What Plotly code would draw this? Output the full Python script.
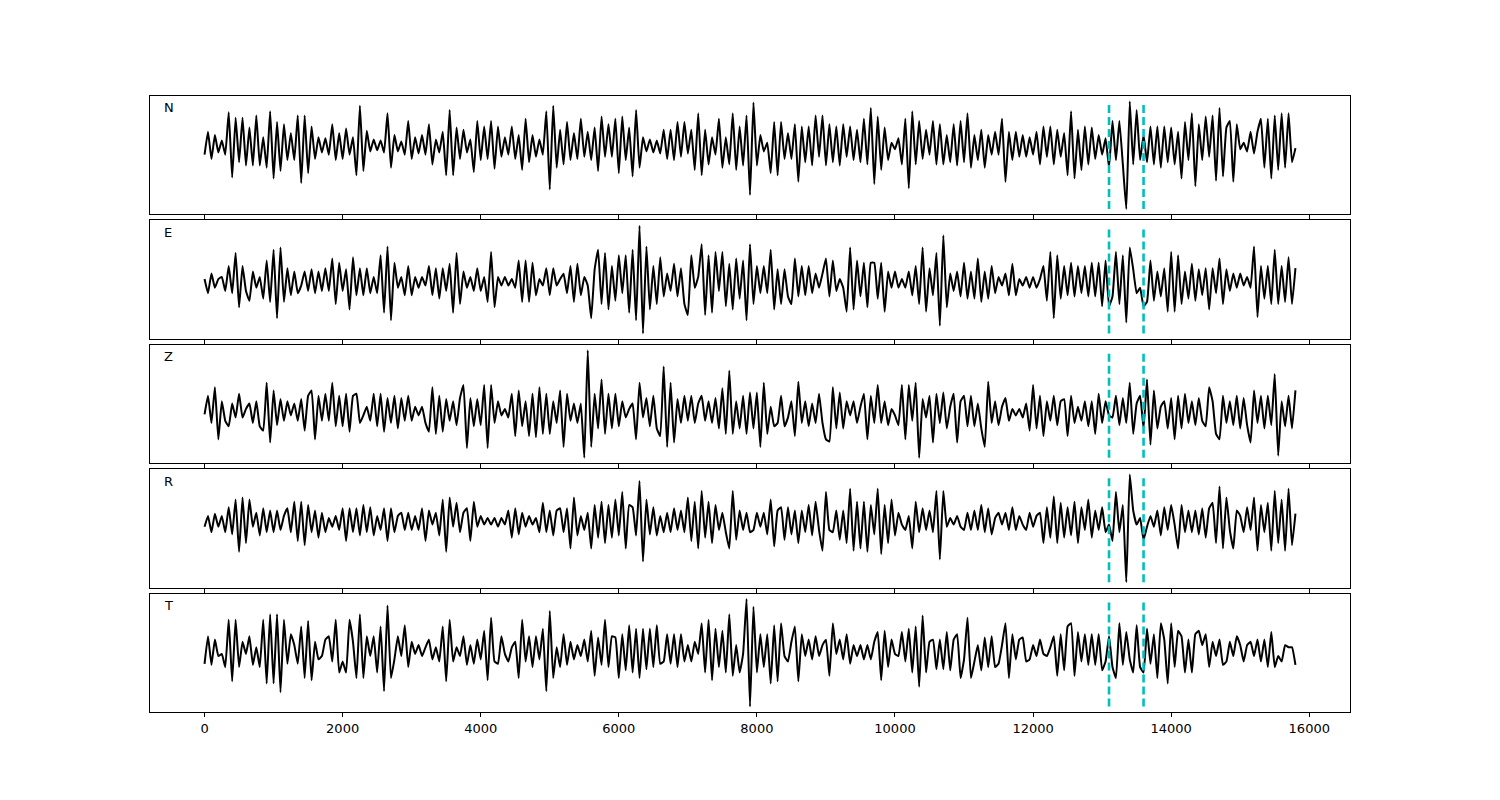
import plotly.graph_objects as go
from plotly.subplots import make_subplots

# ---------------- data ----------------
SAMPLE_STEP = 50  # time between listed samples (x units)
components = ["N", "E", "Z", "R", "T"]
pick_times = [13100, 13600]

N_vals = [
    -8, 13, -12, 10, -6, 5, -8, 31, -29, 26, -15, 26, -18, 17, -18, 28, -18, 8, -20, 32,
    -30, 22, -23, 20, -13, 12, -13, 28, -34, 28, -25, 18, -12, 8, -6, 7, -8, 20, -13, 12,
    -12, 16, -8, 8, -27, 37, -23, 14, -5, 6, -4, 5, -6, 30, -20, 10, -5, 4, -8, 23,
    -12, 8, -7, 10, -8, 20, -17, 6, -6, 13, -27, 33, -27, 17, -12, 15, -6, 6, -24, 23,
    -13, 18, -12, 23, -21, 18, -10, 8, -8, 18, -12, 10, -22, 25, -15, 10, -10, 6, -8, 32,
    -40, 37, -20, 15, -17, 22, -13, 12, -12, 25, -10, 13, -13, 17, -23, 27, -10, 20, -10, 25,
    -25, 27, -13, 17, -28, 33, -20, 8, -5, 6, -6, 5, -7, 15, -12, 15, -13, 22, -10, 22,
    -7, 15, -22, 30, -27, 15, -17, 8, -8, 25, -20, 8, -17, 30, -22, 18, -18, 28, -45,
    40,
    -18, 10, -5, 3, -25, 22, -27, 22, -12, 12, -12, 20, -33, 18, -15, 18, -18, 28, -10, 28,
    -18, 20, -15, 18, -18, 20, -10, 18, -13, 15, -15, 25, -17, 35, -35, 27, -22, 17, -13, 3,
    -3, 7, -17, 25, -39, 32, -17, 23, -12, 15, -8, 23, -17, 20, -17, 10, -15, 20, -18, 23,
    -15, 30, -20, 10, -13, 15, -20, 10, -8, 13, -8, 25, -33, 13, -13, 13, -10, 10, -10, 8,
    -8, 13, -17, 18, -10, 18, -17, 15, -10, 12, -27, 32, -30, 15, -22, 18, -17, 17, -12, 10,
    -8, 7, -20, 23, -13, 23, -17, -58, 41, -17, 33, -13, 10, -15, 18, -17, 18, -20, 18, -15,
    17, -17, 13, -30, 22, -13, 30, -37, 20, -13, 27, -10, 28, -32, 35, -28, 17, 23, -33, 20,
    -3, 3, -5, 13, -7, 13, 25, -20, 25, -30, 28, -22, 30, -20, 30, -15, -2,
]

E_vals = [
    3, -10, 8, -5, 3, 5, -8, 15, -10, 27, -23, 15, -8, -17, 10, -5, 5, -15, 20, -18,
    30, -33, 32, -18, 13, -12, 10, -10, -3, 10, -8, 12, -10, 10, -8, 13, -8, 22, -20, 18,
    -8, 12, -25, 23, -12, 13, -12, 13, -10, 5, -10, 25, -28, 33, -35, 18, -5, 5, -12, 15,
    -12, 5, -5, 5, -3, 15, -12, 13, -15, 13, -8, 17, -28, 27, -20, 10, -5, 5, -8, 13,
    -8, 5, -18, 28, -23, 5, -3, 5, -3, 3, -5, 20, -18, 20, -18, 18, -12, 3, -3, 13,
    -12, 13, -3, 3, 8, -10, 15, -18, 17, -12, 5, -3, -33, 12, 30, -20, 27, -25, 15, -17,
    25, -10, 25, -28, 30, -35, 52, -47, 33, -25, 15, -20, 23, -13, 8, -8, 17, -13, 13, -20,
    -30, 25, -5, 5, 35, -30, 25, -28, 28, -8, 28, -22, 17, -25, 22, -15, 20, -35, 35,
    -20,
    15, -10, 15, -10, 30, -25, 12, -20, 12, -13, -20, 22, -13, 15, -12, 15, -10, 8, -5, 8,
    22, -13, 20, -8, 3, -5, -27, 32, -25, 20, -13, 18, -23, 18, 18, -15, 18, -27, 10, -5,
    10, -5, 3, -5, 10, -12, 15, -20, 32, -27, 13, -12, 27, -40, 43, -23, 8, -8, 10, -13,
    18, -15, 10, -15, 22, -18, 10, -15, 15, -10, 5, -3, 8, -12, 17, -12, 3, -3, 5, -5,
    5, -5, 3, 15, -17, 28, -33, 25, -15, 15, -12, 18, -13, 15, -10, 15, -13, 18, -13, 18,
    -22, 20, -22, -13, 28, -20, 25, -37, 32, 12, -10, -5, -22, -18, 20, -17, 10, -13, 13, -27,
    28, -27, 25, -20, 10, -15, 17, -17, 12, -12, 13, -25, 13, -10, 22, -20, 12, -8, 8, -5,
    8, -3, 5, -5, 33, -32, 15, -15, 15, -20, 30, -20, 15, -18, 23, -20, 13,
]

Z_vals = [
    -2, 15, -10, 23, -25, 10, -8, -13, 8, -5, 17, -5, 3, 8, -10, 10, -13, -17, 27, -28,
    20, -12, 12, -8, 10, -3, 8, -8, 12, -17, 15, 20, -25, 15, -8, 17, -8, 27, -13, 15,
    -13, 17, -18, 15, 17, -10, -3, 5, -8, 17, -13, 17, -18, 13, -10, 15, -15, 13, -8, 15,
    -8, 5, -3, 5, -10, -18, 23, -20, 15, -18, 12, -8, 10, -12, 13, 25, -33, 13, -13, 12,
    -12, 25, -33, 25, -10, 10, -3, 3, -5, 17, -22, 20, -13, 10, -22, 17, -23, 23, -20, 17,
    -20, 10, -10, 20, -32, 17, -8, 8, -10, 8, -42, 57, -32, 17, -15, 30, -20, 17, -15, 17,
    -13, 10, -5, 3, 8, -25, 27, -5, 13, -13, 15, -15, -22, 42, -32, 27, -28, 12, -10, 15,
    -8, 15, -10, 8, 15, -8, 10, -10, 13, -15, 22, -20, 38, -20, 10, -15, 15, -20, 18,
    -15, 18, -32, 27, -20, 5, -13, -10, 15, -13, -5, 10, -22, 28, -10, 10, -13, 8, -10, 17, -10,
    -25, -27, 23, -15, 18, -15, 10, -3, 10, -10, 5, 17, -25, 15, -10, 25, -10, 10, -12, 3,
    -3, -12, 25, -25, 25, -8, 27, -42, 12, -5, 15, -28, 17, -10, 18, -15, 5, 17, -28, 10,
    15, -13, 15, -13, 8, -15, -32, 28, -10, 10, -12, 5, 13, -8, 3, -3, 3, -5, 8, -17,
    25, -15, 15, -22, 10, -8, 15, -12, 10, 12, -22, 15, -10, 5, -8, 10, -13, 10, -20, 17,
    -10, 10, -3, -5, 15, -12, 13, -10, 27, -20, 8, 15, -15, 30, -30, 20, -15, 5, 10, -15,
    13, -25, 15, -15, 17, -10, 10, -12, 13, -8, -13, 23, 10, -20, -25, 15, -10, 10, -12, 15,
    -15, 13, -12, -28, 20, -10, 15, -15, 15, -12, 35, -40, 10, -13, 15, -15, 20,
]

R_vals = [
    -5, 5, -10, 7, -5, 5, -10, 13, -12, 20, -28, 22, -20, 20, -5, 8, -13, 12, -10, 10,
    -10, 10, -8, 5, 12, -10, 18, -18, 18, -22, 15, -10, 10, -15, 8, -10, 3, -5, 5, -8,
    12, -18, 12, -10, 12, -13, 15, -10, 13, -13, 5, -8, 12, -18, 12, -10, 5, 8, -8, 8,
    -8, 5, -8, 12, -18, 10, -3, 8, -13, 20, -28, 22, -5, 17, -10, 8, 12, -18, 18, -5,
    5, -3, 3, -3, 3, -5, 3, -3, 10, -15, 12, -12, 8, -5, 5, -3, 3, -10, 17, -10,
    10, -13, 10, 12, -10, 12, -25, 22, -13, 5, -8, 8, -25, 15, -15, 18, -20, 15, -15, 20,
    -13, 27, -25, 15, 13, -13, 37, -37, 20, -12, 13, -13, 5, -10, 8, -10, 12, -8, 10, -10,
    22, -18, 18, -25, 28, -15, 18, -20, 15, -8, 8, -10, -25, 28, -17, 10, -8, 8, -10,
    -8, 8, -5, 8, -12, 20, -23, 10, 13, -17, 13, -12, 10, -20, 10, -10, 15, -13, 18, -8, -27,
    27, -8, -10, 10, -17, 10, -20, 30, -27, 18, -25, 18, -28, 15, -12, 30, -30, 15, -20, 20,
    -13, 8, -3, -8, 5, -25, 18, -10, 12, -8, 10, -10, 28, -35, 28, -5, 3, -3, 5, -5,
    -8, 8, -8, 10, -8, 15, -10, 12, -12, 3, 8, -3, 8, -8, 13, -8, 5, -3, -8, 8,
    -5, 5, 8, -20, 13, -15, 23, -20, 17, -15, 13, -13, 18, -20, 13, -8, 20, -15, 10, -8,
    13, -10, -3, -18, 27, -10, 15, -56, 43, 10, -3, 3, -17, -5, 5, -5, 10, -13, 13, -8,
    15, -3, -25, 15, -10, 10, -10, 10, -12, 12, -15, 12, 17, -20, 32, -25, 22, -8, -25, 10,
    5, -10, 13, -8, 22, -27, 15, -10, 17, -27, 28, -20, 20, -27, 30, -22, 7,
]

T_vals = [
    -12, 13, -13, 10, -5, -3, -15, 28, -28, 28, -15, 8, -3, 13, -13, 3, -15, 28, -30, 33,
    -30, 33, -38, 28, -12, 15, 5, -12, 22, -25, 27, -27, 8, -8, -5, 10, 13, -10, 28, -20,
    -10, -20, 28, 8, -25, 33, -25, 13, -5, 13, -20, 22, -37, 41, -25, -8, 13, -5, 23, -15,
    8, -3, 5, -5, 3, 10, -8, 3, -10, 22, -28, 28, -10, 3, -5, 13, -13, 5, -12, 10,
    -8, 18, -27, 30, -10, -12, 13, -3, -10, 3, 8, -25, 28, -10, 13, -15, 13, -8, 20, -37,
    36, -25, 3, -15, 15, -13, 8, -8, 5, -5, 10, -10, 18, -23, 12, -13, 28, -15, 13, 12,
    -25, 15, -18, 23, -20, 20, -25, 20, -17, 20, -15, 23, -12, -10, 15, -12, 15, -15, 15, -10,
    5, -10, 8, -3, 25, -20, 28, -27, 20, -15, 18, -20, 33, -23, 5, -20, -3, 47, -51,
    40, -20, 15, -15, 15, -30, 23, -28, 25, -5, -10, 8, 22, -28, 15, -5, 10, -8, 13, -5, 5,
    10, -23, 25, -3, 10, -8, 15, -12, 5, -5, 5, -8, 5, -8, 8, 17, -27, 18, -15, 10,
    -3, -5, 17, -10, 20, -20, 22, -33, 32, -20, 8, 10, -17, 10, -17, 17, -18, 10, 15, -25,
    -8, 30, -25, -10, 5, -18, 12, -15, 13, -15, -12, 5, 25, -25, 15, -8, 10, 12, -10, -8,
    5, -5, 10, -3, -5, 3, 13, -23, 15, -18, 22, 25, -23, 17, -10, 15, -13, 15, -13, 15,
    -18, -10, 13, -15, -25, 25, -13, 17, -8, -20, 23, -15, -20, 20, -12, 15, -25, 25, 10, -30,
    25, -15, 18, 13, -20, 10, -20, 15, 18, 5, 15, -15, 8, -5, 10, -13, -10, 8, -5, 13,
    5, -10, 5, 8, -5, 10, -10, 10, -15, 17, -15, -5, -10, 5, 3, 3, -13,
]

series = [N_vals, E_vals, Z_vals, R_vals, T_vals]

x_tick_vals = [0, 2000, 4000, 6000, 8000, 10000, 12000, 14000, 16000]
x_tick_text = ["0", "2000", "4000", "6000", "8000", "10000", "12000", "14000", "16000"]

# ---------------- figure ----------------
fig = make_subplots(rows=5, cols=1, shared_xaxes=True, vertical_spacing=6 / 616)

PICK_COLOR = "rgb(0,191,191)"
FONT = dict(family="DejaVu Sans", size=13, color="black")

for i, (name, vals) in enumerate(zip(components, series), start=1):
    t = [k * SAMPLE_STEP for k in range(len(vals))]
    fig.add_trace(
        go.Scatter(x=t, y=vals, mode="lines",
                   line=dict(color="black", width=2, shape="spline", smoothing=0.35),
                   showlegend=False, hoverinfo="skip"),
        row=i, col=1,
    )
    lo, hi = min(vals), max(vals)
    for pt in pick_times:
        fig.add_trace(
            go.Scatter(x=[pt, pt], y=[lo, hi], mode="lines",
                       line=dict(color=PICK_COLOR, width=2.6, dash="8px,4px"),
                       showlegend=False, hoverinfo="skip"),
            row=i, col=1,
        )
    span = hi - lo
    fig.update_yaxes(range=[lo - 0.05 * span, hi + 0.05 * span],
                     showticklabels=False, ticks="", showgrid=False, zeroline=False,
                     showline=True, linecolor="black", linewidth=1, mirror=True,
                     row=i, col=1)
    fig.update_xaxes(range=[-790, 16590], tickmode="array",
                     tickvals=x_tick_vals, ticktext=x_tick_text,
                     ticks="outside", ticklen=4, tickwidth=1, tickcolor="black",
                     showgrid=False, zeroline=False,
                     showline=True, linecolor="black", linewidth=1, mirror=True,
                     showticklabels=(i == 5), tickfont=FONT,
                     row=i, col=1)
    xref = "x domain" if i == 1 else f"x{i} domain"
    yref = "y domain" if i == 1 else f"y{i} domain"
    fig.add_annotation(text=name, xref=xref, yref=yref, x=0.01, y=0.9,
                       xanchor="left", yanchor="middle", showarrow=False,
                       font=FONT)

# page body adds an 8px offset; margins compensate so the axes land at 150..1350 x 96..712
fig.update_layout(
    width=1500, height=800,
    margin=dict(l=142, r=158, t=88, b=96),
    paper_bgcolor="white", plot_bgcolor="white",
    showlegend=False,
)

fig.write_html("out.html")
